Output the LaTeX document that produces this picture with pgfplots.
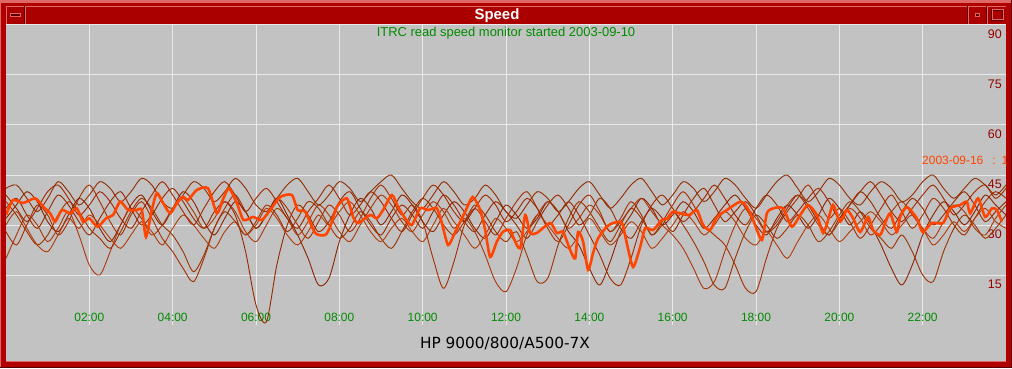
\documentclass[border=0pt]{standalone}
\usepackage{fontspec}
\setmainfont{Liberation Sans}
\newfontfamily\dejavu{DejaVu Sans}
\usepackage{pgfplots}
\pgfplotsset{compat=1.18}
\usepackage{pgfplotstable}
\definecolor{frame}{RGB}{176,0,0}
\definecolor{titlebar}{RGB}{170,0,0}
\definecolor{hilite}{RGB}{224,104,104}
\definecolor{shadow}{RGB}{90,0,0}
\definecolor{plotbg}{RGB}{194,194,194}
\definecolor{gridc}{RGB}{234,234,234}
\definecolor{tickgreen}{RGB}{0,140,0}
\definecolor{ytickred}{RGB}{150,0,0}
\definecolor{speed}{RGB}{255,69,0}
\definecolor{brA}{RGB}{150,40,0}
\definecolor{brB}{RGB}{165,45,0}
\definecolor{brC}{RGB}{140,35,0}
\definecolor{brD}{RGB}{170,55,10}
\definecolor{brE}{RGB}{155,50,0}
\definecolor{brF}{RGB}{160,38,0}
\definecolor{brG}{RGB}{145,45,0}
\definecolor{brH}{RGB}{175,60,10}

\pgfplotstableread{
h A B C D E F G H
0 35 28 32 20 37 39 41 30
0.25 38 24 36 27 33 35 42 34
0.5 33 30 40 33 28 31 38 29
0.75 29 36 37 30 24 35 34 24
1 34 33 31 25 27 40 38 22
1.25 39 27 28 29 33 42 43 27
1.5 36 31 33 34 37 38 40 32
1.75 31 38 38 27 34 33 36 29
2 27 42 35 18 29 36 39 33
2.25 32 37 29 15 26 40 43 30
2.5 37 31 25 22 23 37 41 26
2.75 40 27 30 30 28 32 37 23
3 35 33 36 35 34 29 40 27
3.25 30 37 39 32 38 34 44 31
3.5 33 32 34 27 35 39 42 28
3.75 38 26 30 30 30 43 37 24
4 41 22 35 35 27 39 35 29
4.25 37 17 40 38 22 34 39 33
4.5 32 13 37 34 16 30 43 30
4.75 29 20 31 29 21 35 41 26
5 34 29 27 32 29 40 37 23
5.25 37 35 32 37 34 43 40 28
5.5 33 39 37 34 31 39 44 31
5.75 22 34 34 28 27 34 41 27
6 6 29 29 25 31 38 36 30
6.25 1 33 33 30 36 41 34 35
6.5 18 38 38 35 33 37 38 32
6.75 30 35 33 32 28 32 42 27
7 36 30 27 27 32 29 44 24
7.25 33 26 20 31 37 34 40 28
7.5 28 31 12 36 35 38 36 33
7.75 31 36 14 33 30 42 39 30
8 37 33 25 28 26 38 43 34
8.25 40 28 33 25 29 33 41 37
8.5 35 32 38 30 34 36 37 33
8.75 30 38 35 35 31 40 40 28
9 27 42 30 39 26 37 43 25
9.25 32 38 34 36 23 32 45 29
9.5 36 33 39 31 28 28 41 32
9.75 33 36 36 28 34 33 37 28
10 29 31 31 33 38 38 35 25
10.25 34 20 28 37 35 42 39 30
10.5 39 11 33 34 30 39 43 35
10.75 36 19 37 29 27 34 40 31
11 31 30 34 32 31 31 36 27
11.25 28 35 29 28 36 35 38 23
11.5 33 31 26 21 33 39 42 27
11.75 37 27 31 13 28 36 39 32
12 34 32 36 10 25 31 34 29
12.25 30 37 33 17 28 34 32 25
12.5 26 40 29 27 21 38 36 28
12.75 31 35 32 33 13 35 40 33
13 36 29 37 37 14 30 38 30
13.25 39 25 34 34 24 33 34 26
13.5 35 30 28 29 32 37 37 23
13.75 30 36 24 32 37 33 41 27
14 33 39 17 36 34 27 43 32
14.25 38 34 12 33 29 21 39 28
14.5 35 28 19 28 25 14 35 24
14.75 29 32 28 31 30 12 38 27
15 26 37 33 35 35 20 42 31
15.25 31 33 38 38 32 30 44 28
15.5 35 27 35 34 27 36 40 23
15.75 32 31 30 30 30 39 36 26
16 28 36 33 27 34 35 39 30
16.25 33 40 37 23 30 31 43 34
16.5 38 36 34 17 25 34 41 31
16.75 41 30 29 11 19 38 37 27
17 36 27 32 13 12 42 40 30
17.25 31 24 36 22 11 38 44 34
17.5 34 18 39 30 20 33 42 31
17.75 37 11 35 35 28 30 38 26
18 33 10 30 32 33 35 35 24
18.25 28 20 27 28 30 39 39 28
18.5 30 29 32 31 26 36 43 24
18.75 35 34 36 36 29 31 45 20
19 39 38 33 39 33 34 41 25
19.25 36 42 29 35 30 38 37 30
19.5 31 37 33 30 25 41 40 33
19.75 27 32 38 27 28 37 44 29
20 32 35 35 31 33 32 42 25
20.25 36 31 30 35 37 36 38 28
20.5 40 26 34 32 34 40 36 31
20.75 37 30 30 27 29 43 40 34
21 32 35 24 30 26 39 43 31
21.25 29 39 17 34 23 34 41 27
21.5 34 34 12 37 27 31 37 30
21.75 38 29 18 33 22 35 39 33
22 35 33 27 29 15 39 43 29
22.25 30 38 33 26 13 42 45 24
22.5 33 35 37 31 22 38 41 27
22.75 37 30 34 36 29 33 38 31
23 40 27 30 34 33 36 41 28
23.25 36 32 34 29 30 40 44 32
23.5 31 37 39 27 26 42 42 35
23.75 34 40 36 32 29 38 39 31
24 37 38 33 36 33 41 42 29
}\thin

\pgfplotstableread{
h v
0 33
0.17 37.5
0.41 36.6
0.7 38
0.9 35.4
1.06 33.5
1.18 31
1.34 34.5
1.54 33.5
1.7 35
1.85 31
2.0 32
2.2 29.5
2.4 32
2.57 33
2.74 37
2.93 34.5
3.14 34.5
3.26 34.5
3.36 26.4
3.5 34.5
3.62 39.6
3.77 36.6
3.94 33.5
4.1 36.6
4.25 38.4
4.37 37.5
4.58 40.5
4.85 41
5.06 33.5
5.2 37.5
5.35 41
5.54 36.6
5.7 31.5
5.93 32.4
6.14 31.5
6.34 34.5
6.58 38.4
6.86 39
7.0 34.5
7.18 34
7.42 27.6
7.66 27
7.78 29.5
7.94 35.4
8.18 38
8.33 32.4
8.45 30.6
8.74 33
8.9 32
9.05 34.5
9.26 39
9.41 35.4
9.58 32
9.74 30
9.94 35
10.13 34.5
10.34 35
10.46 30.6
10.61 24
10.78 27.9
11.02 34
11.2 38.4
11.38 34.5
11.5 28.5
11.62 20.4
11.78 25
11.93 28
12.1 28.5
12.17 26.4
12.34 23
12.46 33
12.58 27.6
12.74 27.6
13.06 30.6
13.22 27.6
13.37 27.9
13.54 22.5
13.66 20
13.73 27.9
13.85 25
13.97 16.5
14.09 21.6
14.21 26
14.42 29.5
14.57 30.6
14.78 30.6
14.9 24.5
15.05 17.4
15.22 23.4
15.34 29
15.53 28.5
15.74 31.5
15.89 32
16.0 34
16.17 33.5
16.4 33
16.58 34.5
16.73 30
16.9 28.5
17.06 32.4
17.3 34.5
17.62 37
17.78 35.4
17.93 31.5
18.14 25.5
18.26 33.5
18.41 35
18.65 35
18.86 29.5
19.06 33
19.25 36
19.46 33
19.61 27.6
19.73 31.5
19.85 36
20.02 31
20.18 34.5
20.33 32
20.5 27.9
20.69 32.4
20.81 28.5
20.98 27
21.1 30.6
21.22 33.5
21.38 27.9
21.46 32.4
21.62 35.4
21.86 32
22.0 27.9
22.22 30.6
22.49 30.6
22.66 35
22.9 36
23.06 37
23.14 33.5
23.33 38
23.5 32.4
23.66 35
23.78 34.5
23.9 31
}\speedtab

\begin{document}
\begin{tikzpicture}[x=1bp,y=1bp]
% window frame
\fill[frame] (0,0) rectangle (1012,368);
\fill[hilite] (0,365) rectangle (1012,368);
\fill[hilite] (0,0) rectangle (1.5,368);
\fill[shadow] (1010.5,0) rectangle (1012,368);
\fill[shadow] (0,0) rectangle (1012,1.5);
\fill[plotbg] (6,7) rectangle (1006,343);
\draw[hilite,line width=1bp] (6,6.5) -- (1006,6.5);
% title bar
\fill[titlebar] (6,344) rectangle (1006,362);
\fill[shadow] (6,343) rectangle (1006,344.3);
\draw[hilite,line width=0.8bp] (6,361.6) -- (1006,361.6);
\draw[hilite,line width=0.8bp] (6.4,344) -- (6.4,362);
\draw[hilite,line width=0.8bp] (25,344) -- (25,362);
\draw[shadow,line width=0.8bp] (24,344) -- (24,362);
\draw[hilite,line width=0.8bp] (968,344) -- (968,362);
\draw[shadow,line width=0.8bp] (967,344) -- (967,362);
\draw[hilite,line width=0.8bp] (987,344) -- (987,362);
\draw[shadow,line width=0.8bp] (986,344) -- (986,362);
\filldraw[fill=shadow,draw=hilite,line width=0.8bp] (10.5,351.5) rectangle (20.5,355);
\filldraw[fill=shadow,draw=hilite,line width=0.8bp] (975,351.5) rectangle (979,355);
\draw[shadow,line width=0.8bp] (991,347.5) rectangle (1002,358);
\draw[hilite,line width=0.6bp] (991.8,348.3) rectangle (1002.8,358.8);
\node[anchor=base,inner sep=0,text=white,font=\fontsize{15}{18}\selectfont\bfseries] at (497,348.5) {Speed};

\begin{axis}[
  at={(6bp,43bp)}, anchor=south west,
  width=1000bp, height=300bp, scale only axis,
  xmin=0, xmax=24, ymin=0, ymax=90,
  axis line style={draw=none},
  tick style={draw=none},
  major tick length=0pt,
  grid=major,
  major grid style={draw=gridc, line width=1bp},
  xtick={2,4,6,8,10,12,14,16,18,20,22},
  xticklabels={02:00,04:00,06:00,08:00,10:00,12:00,14:00,16:00,18:00,20:00,22:00},
  ytick={15,30,45,60,75,90},
  yticklabels={15,30,45,60,75,90},
  yticklabel pos=right,
  /pgf/number format/assume math mode=true,
  x tick label style={anchor=base, yshift=3.5bp, inner sep=0pt, text=tickgreen, font=\fontsize{12}{14}\selectfont},
  y tick label style={anchor=north east, xshift=-4bp, yshift=-5bp, inner sep=0pt, text=ytickred, font=\fontsize{12.5}{14}\selectfont},
  clip=true,
]
\addplot[brA, line width=0.9bp, smooth] table[x=h,y=A] {\thin};
\addplot[brB, line width=0.9bp, smooth] table[x=h,y=B] {\thin};
\addplot[brC, line width=0.9bp, smooth] table[x=h,y=C] {\thin};
\addplot[brD, line width=0.9bp, smooth] table[x=h,y=D] {\thin};
\addplot[brE, line width=0.9bp, smooth] table[x=h,y=E] {\thin};
\addplot[brF, line width=0.9bp, smooth] table[x=h,y=F] {\thin};
\addplot[brG, line width=0.9bp, smooth] table[x=h,y=G] {\thin};
\addplot[brH, line width=0.9bp, smooth] table[x=h,y=H] {\thin};
\addplot[speed, line width=2.6bp, smooth, tension=0.4] table[x=h,y=v] {\speedtab};
\end{axis}

\node[anchor=base,inner sep=0,text=tickgreen,font=\fontsize{13}{15}\selectfont] at (506,332) {ITRC read speed monitor started 2003-09-10};
\begin{scope}
\clip (6,7) rectangle (1006,343);
\node[anchor=base west,inner sep=0,text=speed,font=\fontsize{12}{14}\selectfont] at (922,204) {2003-09-16\hspace{9bp}:\hspace{6bp}1};
\end{scope}
\node[anchor=base,inner sep=0,text=black,font=\dejavu\fontsize{15.4}{18}\selectfont] at (505,20) {HP 9000/800/A500-7X};
\end{tikzpicture}
\end{document}
